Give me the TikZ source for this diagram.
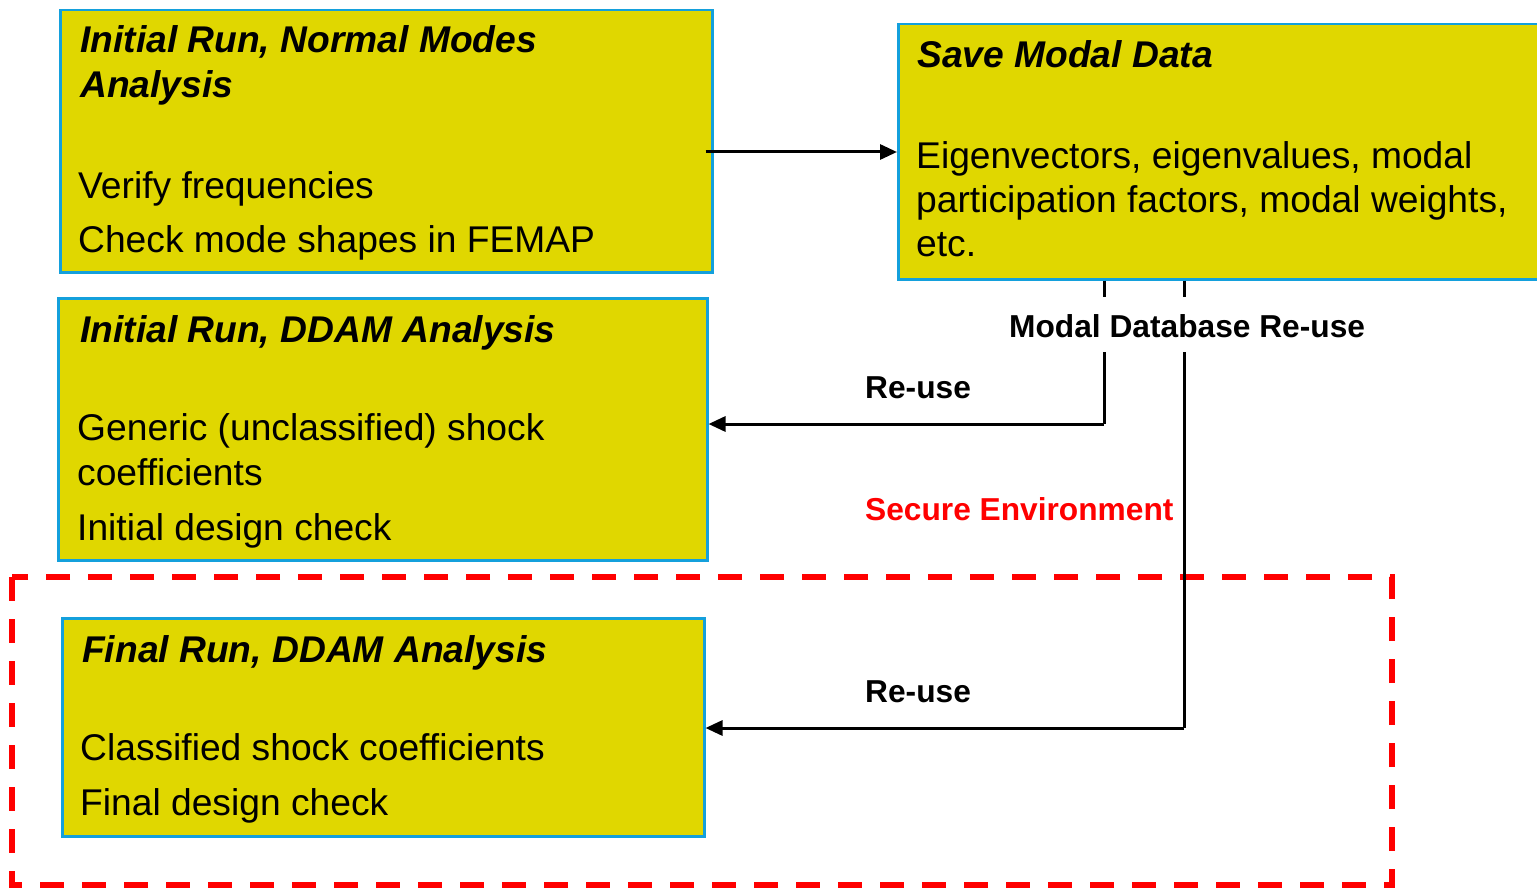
\documentclass[tikz,border=0pt]{standalone}
\usepackage{fontspec}
\setmainfont{Liberation Sans}
\usetikzlibrary{arrows.meta}
\definecolor{boxyellow}{RGB}{224,215,0}
\definecolor{boxblue}{RGB}{20,160,220}
\definecolor{secred}{RGB}{255,0,0}
\begin{document}
\begin{tikzpicture}[x=1pt,y=-1pt,
 box/.style={draw=boxblue,line width=2.5pt,fill=boxyellow,inner sep=0pt,anchor=north west},
 ttl/.style={anchor=base west,inner sep=0pt,font=\fontsize{37.2}{45}\selectfont\bfseries\itshape},
 body/.style={anchor=base west,inner sep=0pt,font=\fontsize{37.2}{45}\selectfont},
 lbl/.style={anchor=base west,inner sep=0pt,font=\fontsize{31.7}{38}\selectfont\bfseries},
 arr/.style={line width=3pt,-{Triangle[length=17pt,width=15pt]}},
 ln/.style={line width=3pt}]
\useasboundingbox (0,0) rectangle (1537,888);
\clip (0,0) rectangle (1537,888);
\fill[white] (0,0) rectangle (1537,888);
% secure environment frame
\draw[secred,line width=6pt,dash pattern=on 24pt off 18pt] (12,577) rectangle (1392,885);
% boxes
\node[box,minimum width=652pt,minimum height=262pt] (box1) at (59,9) {};
\node[box,minimum width=660pt,minimum height=255pt] (box2) at (897,23) {};
\node[box,minimum width=649pt,minimum height=262pt] (box3) at (57,297) {};
\node[box,minimum width=642pt,minimum height=218pt] (box4) at (61,617) {};
% texts
\node[ttl] (t1a) at (80,53) {Initial Run, Normal Modes};
\node[ttl] (t1b) at (80,98) {Analysis};
\node[body] (t1c) at (78,198) {Verify frequencies};
\node[body] (t1d) at (78,252) {Check mode shapes in FEMAP};
\node[ttl] (t2a) at (917,68) {Save Modal Data};
\node[body] (t2b) at (916,168) {Eigenvectors, eigenvalues, modal};
\node[body] (t2c) at (916,212) {participation factors, modal weights,};
\node[body] (t2d) at (916,256) {etc.};
\node[ttl] (t3a) at (80,342) {Initial Run, DDAM Analysis};
\node[body] (t3b) at (77,440) {Generic (unclassified) shock};
\node[body] (t3c) at (77,485) {coefficients};
\node[body] (t3d) at (77,540) {Initial design check};
\node[ttl] (t4a) at (82,662) {Final Run, DDAM Analysis};
\node[body] (t4b) at (80,760) {Classified shock coefficients};
\node[body] (t4c) at (80,815) {Final design check};
% connectors
\coordinate (c1) at (1104,424);
\coordinate (c2) at (1184,728);
\draw[arr] ([xshift=-8pt]box1.east |- 0,152) -- (box2.west |- 0,152);
\draw[ln] (box2.south -| c1) -- (c1);
\draw[arr] (c1) -- (box3.east |- c1);
\draw[ln] (box2.south -| c2) -- (c2);
\draw[arr] (c2) -- (box4.east |- c2);
% label
\node[fill=white,inner sep=0pt,minimum width=450pt,minimum height=55pt,anchor=north west] (lblbox) at (990,297) {};
\node[lbl] (mdr) at (1009,337) {Modal Database Re-use};
\node[lbl] (ru1) at (865,398) {Re-use};
\node[lbl] (ru2) at (865,702) {Re-use};
\node[lbl,text=secred] (sec) at (865,520) {Secure Environment};
\end{tikzpicture}
\end{document}
